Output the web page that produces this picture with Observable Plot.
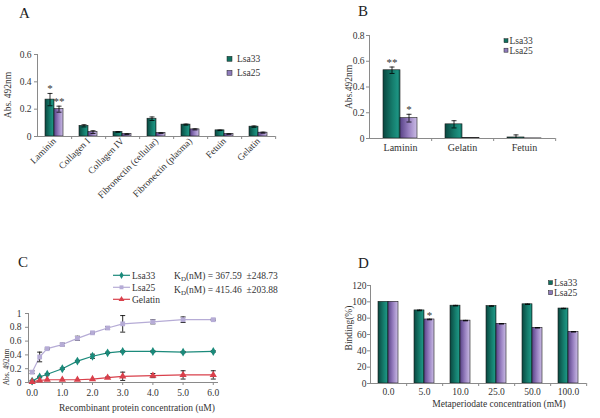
<!DOCTYPE html>
<html><head><meta charset="utf-8">
<script src="https://cdn.jsdelivr.net/npm/d3@7"></script>
<script src="https://cdn.jsdelivr.net/npm/@observablehq/plot@0.6"></script>
<style>
body{margin:0;background:#fff;}
#wrap{position:relative;width:600px;height:418px;overflow:hidden;background:#fff;}
#ov{position:absolute;left:0;top:0;}
</style></head><body><div id="wrap"></div>
<script>
const FONT = '"Liberation Serif", "Times New Roman", serif';
const seriesAB = ["Lsa33", "Lsa25"];

// ---- Panel A ----
const catsA = ["Laminin","Collagen I","Collagen IV","Fibronectin (cellular)","Fibronectin (plasma)","Fetuin","Gelatin"];
const lsa33A = [0.27, 0.078, 0.033, 0.13, 0.087, 0.045, 0.072];
const lsa33AErr = [0.045, 0.008, 0.003, 0.013, 0.004, 0.002, 0.005];
const lsa25A = [0.2, 0.032, 0.017, 0.025, 0.052, 0.018, 0.028];
const lsa25AErr = [0.022, 0.01, 0.003, 0.002, 0.004, 0.002, 0.004];
const starsA33 = ["*", "", "", "", "", "", ""];
const starsA25 = ["**", "", "", "", "", "", ""];
const ticksA = [0, 0.2, 0.4, 0.6];

// ---- Panel B ----
const catsB = ["Laminin", "Gelatin", "Fetuin"];
const lsa33B = [0.53, 0.11, 0.008];
const lsa33BErr = [0.025, 0.028, 0.02];
const lsa25B = [0.158, 0.003, 0.001];
const lsa25BErr = [0.03, 0, 0];
const starsB33 = ["**", "", ""];
const starsB25 = ["*", "", ""];
const ticksB = [0, 0.2, 0.4, 0.6, 0.8];

// ---- Panel C ----
const seriesC = ["Lsa33", "Lsa25", "Gelatin"];
const xC = [0, 0.25, 0.5, 1, 1.5, 2, 2.5, 3, 4, 5, 6];
const lsa33C = [0.02, 0.08, 0.12, 0.2, 0.31, 0.38, 0.43, 0.45, 0.45, 0.44, 0.45];
const lsa33CErr = [0.01, 0.01, 0.01, 0.01, 0.01, 0.03, 0.01, 0.01, 0.01, 0.01, 0.01];
const lsa25C = [0.15, 0.37, 0.49, 0.55, 0.64, 0.72, 0.79, 0.85, 0.88, 0.91, 0.91];
const lsa25CErr = [0.02, 0.07, 0.01, 0.02, 0.03, 0.01, 0.02, 0.12, 0.03, 0.04, 0.01];
const gelatinC = [0.01, 0.03, 0.04, 0.04, 0.04, 0.05, 0.07, 0.09, 0.1, 0.11, 0.11];
const gelatinCErr = [0, 0, 0, 0, 0, 0, 0.01, 0.06, 0.03, 0.06, 0.06];
const ticksCx = [0, 1, 2, 3, 4, 5, 6];
const ticksCy = [0, 0.2, 0.4, 0.6, 0.8, 1];
const kdTexts = [["367.59", "248.73"], ["415.46", "203.88"]];

// ---- Panel D ----
const catsD = ["0.0", "5.0", "10.0", "25.0", "50.0", "100.0"];
const lsa33D = [100, 89.5, 95.3, 94.8, 97, 91.8];
const lsa33DErr = [0, 0.4, 0.4, 0.3, 0.3, 0.3];
const lsa25D = [100, 78.4, 77, 73.1, 68.2, 63.3];
const lsa25DErr = [0, 0.4, 0.3, 0.3, 0.3, 0.3];
const starsD33 = ["", "", "", "", "", ""];
const starsD25 = ["", "*", "", "", "", ""];
const ticksD = [0, 20, 40, 60, 80, 100, 120];

const AXIS = "#8a8a8a";
const TEXT = "#333";
const cap = {draw(ctx) { ctx.moveTo(-2.5, 0); ctx.lineTo(2.5, 0); }};

const wrap = document.getElementById("wrap");

function grouped(o) {
  const rows = o.cats.flatMap((c, i) => [
    {cat: c, series: "Lsa33", v: o.v33[i], e: o.e33[i], star: o.s33[i]},
    {cat: c, series: "Lsa25", v: o.v25[i], e: o.e25[i], star: o.s25[i]}
  ]);
  const er = rows.filter(d => d.e > 0);
  const step = (o.width - o.ml - o.mr) / o.cats.length;
  const svg = Plot.plot({
    width: o.width, height: o.height,
    marginLeft: o.ml, marginRight: o.mr, marginTop: o.mt, marginBottom: o.mb,
    style: {position: "absolute", left: o.left + "px", top: o.top + "px", fontFamily: FONT, fontSize: "9.5px", color: TEXT, background: "none", overflow: "visible"},
    fx: {domain: o.cats, padding: 0, axis: null, label: null},
    x: {domain: seriesAB, paddingInner: 0, paddingOuter: o.po, axis: null},
    y: {domain: o.yDomain, axis: null},
    color: {type: "ordinal", domain: seriesAB, range: ["url(#g33)", "url(#g25)"]},
    marks: [
      Plot.barY(rows, {fx: "cat", x: "series", y: "v", fill: "series", stroke: "#1a1a1a", strokeWidth: 0.6}),
      Plot.ruleX(er, {fx: "cat", x: "series", y1: d => Math.max(0, d.v - d.e), y2: d => d.v + d.e, stroke: "#000", strokeWidth: 0.8}),
      Plot.dot(er, {fx: "cat", x: "series", y: d => d.v + d.e, symbol: cap, stroke: "#000", fill: "none", strokeWidth: 0.8}),
      Plot.dot(er.filter(d => d.v - d.e > 0), {fx: "cat", x: "series", y: d => d.v - d.e, symbol: cap, stroke: "#000", fill: "none", strokeWidth: 0.8}),
      Plot.text(rows.filter(d => d.star), {fx: "cat", x: "series", y: d => d.v + d.e, text: "star", dy: o.starDy, lineAnchor: "bottom", fontSize: 11, fill: TEXT}),
      Plot.ruleY([0], {stroke: AXIS}),
      Plot.frame({anchor: "left", facetAnchor: "left", stroke: AXIS}),
      Plot.axisY({ticks: o.ticks, tickFormat: "~f", tickSize: 3, tickPadding: o.yPad, label: null, stroke: AXIS, fill: TEXT}),
      Plot.axisFx({anchor: "bottom", tickFormat: () => "", tickSize: 3, dx: step / 2, label: null, stroke: AXIS}),
      Plot.axisFx({anchor: "bottom", tickSize: 0, tickPadding: o.xPad, tickRotate: o.rot, label: null, fill: TEXT, fontSize: o.xFont})
    ]
  });
  wrap.appendChild(svg);
}

grouped({cats: catsA, v33: lsa33A, e33: lsa33AErr, v25: lsa25A, e25: lsa25AErr, s33: starsA33, s25: starsA25,
  yDomain: [0, 0.6], ticks: ticksA, width: 300, height: 210, left: 0, top: 0,
  ml: 36, mr: 24, mt: 54, mb: 74, po: 0.71, rot: -45, xPad: 3, yPad: 3, xFont: 9.5, starDy: -1});

grouped({cats: catsB, v33: lsa33B, e33: lsa33BErr, v25: lsa25B, e25: lsa25BErr, s33: starsB33, s25: starsB25,
  yDomain: [0, 0.8], ticks: ticksB, width: 300, height: 210, left: 300, top: 0,
  ml: 68, mr: 45, mt: 35, mb: 72, po: 0.78, rot: 0, xPad: 5, yPad: 2, xFont: 10, starDy: -1});

grouped({cats: catsD, v33: lsa33D, e33: lsa33DErr, v25: lsa25D, e25: lsa25DErr, s33: starsD33, s25: starsD25,
  yDomain: [0, 120], ticks: ticksD, width: 300, height: 208, left: 300, top: 210,
  ml: 69, mr: 13, mt: 75, mb: 35, po: 0.73, rot: 0, xPad: 5, yPad: 1, xFont: 9.5, starDy: 0});

// ---- Panel C plot ----
const valsC = {Lsa33: [lsa33C, lsa33CErr], Lsa25: [lsa25C, lsa25CErr], Gelatin: [gelatinC, gelatinCErr]};
const colorsC = ["#1b8a7b", "#b6acd6", "#d9404b"];
const symbolsC = ["diamond", "square", "triangle"];
const rowsC = seriesC.flatMap(s => xC.map((x, i) => ({series: s, x, v: valsC[s][0][i], e: valsC[s][1][i]})));
const erC = rowsC.filter(d => d.e > 0);
const svgC = Plot.plot({
  width: 300, height: 208, marginLeft: 28, marginRight: 83, marginTop: 103, marginBottom: 36,
  style: {position: "absolute", left: "0px", top: "210px", fontFamily: FONT, fontSize: "9.5px", color: TEXT, background: "none", overflow: "visible"},
  x: {domain: [-0.12, 6.14], axis: null},
  y: {domain: [0, 1], axis: null},
  color: {domain: seriesC, range: colorsC},
  symbol: {domain: seriesC, range: symbolsC},
  marks: [
    Plot.frame({anchor: "left", stroke: AXIS}),
    Plot.frame({anchor: "bottom", stroke: AXIS}),
    Plot.axisY({ticks: ticksCy, tickFormat: "~f", tickSize: 3, tickPadding: 4, label: null, stroke: AXIS, fill: TEXT}),
    Plot.axisX({ticks: ticksCx, tickFormat: ".1f", tickSize: 3, tickPadding: 4, label: null, stroke: AXIS, fill: TEXT}),
    Plot.line(rowsC, {x: "x", y: "v", z: "series", stroke: "series", strokeWidth: 1.2}),
    Plot.ruleX(erC, {x: "x", y1: d => Math.max(0, d.v - d.e), y2: d => d.v + d.e, stroke: "#111", strokeWidth: 0.9}),
    Plot.dot(erC, {x: "x", y: d => d.v + d.e, symbol: cap, stroke: "#111", fill: "none", strokeWidth: 0.9}),
    Plot.dot(erC.filter(d => d.v - d.e > 0), {x: "x", y: d => d.v - d.e, symbol: cap, stroke: "#111", fill: "none", strokeWidth: 0.9}),
    Plot.dot(rowsC, {x: "x", y: "v", fill: "series", symbol: "series", r: 2.7})
  ]
});
wrap.appendChild(svgC);

// ---- Overlay: gradients, titles, legends, axis titles ----
const ov = d3.select(wrap).append("svg").attr("id", "ov").attr("width", 600).attr("height", 418)
  .attr("font-family", FONT);
const defs = ov.append("defs");
function grad(id, stops) {
  const g = defs.append("linearGradient").attr("id", id).attr("x1", 0).attr("x2", 1).attr("y1", 0).attr("y2", 0);
  stops.forEach(([o, c]) => g.append("stop").attr("offset", o).attr("stop-color", c));
}
grad("g33", [[0, "#0a463f"], [0.55, "#157c6c"], [0.85, "#1c9281"], [1, "#126a5d"]]);
grad("g25", [[0, "#584287"], [0.5, "#977fc0"], [1, "#cbbde6"]]);

function txt(x, y, s, o = {}) {
  const t = ov.append("text").attr("x", x).attr("y", y).text(s)
    .attr("font-size", o.size || 9.5).attr("fill", o.fill || TEXT)
    .attr("text-anchor", o.anchor || "start");
  if (o.rot) t.attr("transform", `rotate(${o.rot},${x},${y})`);
  if (o.baseline) t.attr("dominant-baseline", o.baseline);
  return t;
}

// Panel letters
txt(19, 18, "A", {size: 15, fill: "#222"});
txt(358, 16, "B", {size: 15, fill: "#222"});
txt(18, 267, "C", {size: 15, fill: "#222"});
txt(358, 268, "D", {size: 15, fill: "#222"});

// Y-axis titles
txt(8, 95, "Abs. 492nm", {anchor: "middle", rot: -90, baseline: "central"});
txt(348.5, 87, "Abs.492nm", {anchor: "middle", rot: -90, baseline: "central"});
txt(6.5, 367, "Abs. 492nm", {anchor: "middle", rot: -90, baseline: "central", size: 7.5});
txt(348.5, 328, "Binding(%)", {anchor: "middle", rot: -90, baseline: "central"});

// X-axis titles
txt(137, 410.5, "Recombinant protein concentration (uM)", {anchor: "middle"});
txt(499, 406.5, "Metaperiodate concentration (mM)", {anchor: "middle"});

// Bar legends (A, B, D)
const swatch = {Lsa33: "#11705f", Lsa25: "#8e7bbb"};
function barLegend(x, ys, size, tx) {
  seriesAB.forEach((s, i) => {
    ov.append("rect").attr("x", x).attr("y", ys[i] - size / 2).attr("width", size).attr("height", size)
      .attr("fill", swatch[s]).attr("stroke", "#222").attr("stroke-width", 0.5);
    txt(tx, ys[i] + 3.3, s);
  });
}
barLegend(227, [58.8, 72.8], 5, 237);
barLegend(504, [40.7, 50.2], 4, 509.5);
barLegend(548.5, [282.7, 292.7], 4, 554);

// Panel C legend
seriesC.forEach((s, i) => {
  const y = 275.3 + i * 12;
  ov.append("line").attr("x1", 113).attr("x2", 130).attr("y1", y).attr("y2", y)
    .attr("stroke", colorsC[i]).attr("stroke-width", 1.2);
  const sym = {diamond: d3.symbolDiamond, square: d3.symbolSquare, triangle: d3.symbolTriangle}[symbolsC[i]];
  ov.append("path").attr("d", d3.symbol(sym, Math.PI * 2.2 * 2.2)())
    .attr("transform", `translate(121.5,${y})`).attr("fill", colorsC[i]);
  txt(132, y + 3.3, s);
});
kdTexts.forEach(([k, sd], i) => {
  const y = 278.6 + i * 14;
  const t = txt(174, y, "K");
  t.append("tspan").attr("font-size", 7).attr("dy", 2).text("D");
  t.append("tspan").attr("dy", -2).text(`(nM) = ${k}  \u00B1${sd}`);
  t.attr("xml:space", "preserve");
});
</script>
</body></html>
